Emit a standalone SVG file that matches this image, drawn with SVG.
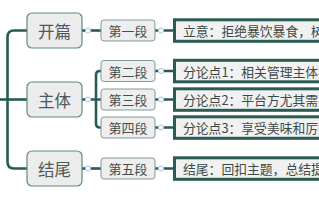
<svg xmlns="http://www.w3.org/2000/svg" width="319" height="200" viewBox="0 0 319 200">
<style>
.l1{fill:#ececec;stroke:#5f8a83;stroke-width:1.2}
.l2{fill:#eeeeee;stroke:#7e9c97;stroke-width:1}
.l3{fill:#f1f1f1;stroke:#2b5b53;stroke-width:3}
.t1{font-family:"Noto Sans CJK SC",sans-serif;font-size:16.5px;fill:#4f5958;text-anchor:middle;dominant-baseline:central}
.t2{font-family:"Noto Sans CJK SC",sans-serif;font-size:13px;fill:#434f4d;text-anchor:middle;dominant-baseline:central}
.t3{font-family:"Noto Sans CJK SC",sans-serif;font-size:12.8px;fill:#3b4a48;dominant-baseline:central}
.c{fill:none;stroke:#2a5a52;stroke-width:2.6}
.k{fill:#f4f7fd;stroke:#b4c4e6;stroke-width:1}
</style>
<defs><clipPath id="vp"><rect x="0" y="0" width="319" height="200"/></clipPath></defs>
<g id="connectors">
<path class="c" d="M0 99.5H27"/>
<path class="c" d="M27 30.5H14Q7.5 30.5 7.5 37V162Q7.5 168.5 14 168.5H27"/>
<path class="c" d="M82 30.5H101"/>
<path class="c" d="M82 99.5H96M101 71H100Q96 71 96 75V123.5Q96 127.5 100 127.5H101M96 99.5H101"/>
<path class="c" d="M82 168.5H101"/>
<path class="c" d="M155 30.5H173M155 71H173M155 99.5H173M155 127.5H173M155 168.5H173"/>
<circle class="k" cx="88" cy="30.5" r="2.6"/>
<circle class="k" cx="88" cy="99.5" r="2.6"/>
<circle class="k" cx="88" cy="168.5" r="2.6"/>
<circle class="k" cx="161" cy="30.5" r="2.6"/>
<circle class="k" cx="161" cy="71" r="2.6"/>
<circle class="k" cx="161" cy="99.5" r="2.6"/>
<circle class="k" cx="161" cy="127.5" r="2.6"/>
<circle class="k" cx="161" cy="168.5" r="2.6"/>
</g>
<g id="n-kaipian"><rect class="l1" x="27" y="13" width="55" height="35" rx="5"/><text class="t1" x="54.5" y="30.5">开篇</text></g>
<g id="n-zhuti"><rect class="l1" x="27" y="82" width="55" height="35" rx="5"/><text class="t1" x="54.5" y="99.5">主体</text></g>
<g id="n-jiewei"><rect class="l1" x="27" y="151" width="55" height="35" rx="5"/><text class="t1" x="54.5" y="168.5">结尾</text></g>
<g id="n-d1"><rect class="l2" x="101" y="20" width="54" height="21" rx="3"/><text class="t2" x="128" y="30.5">第一段</text></g>
<g id="n-d2"><rect class="l2" x="101" y="60.5" width="54" height="21" rx="3"/><text class="t2" x="128" y="71">第二段</text></g>
<g id="n-d3"><rect class="l2" x="101" y="89" width="54" height="21" rx="3"/><text class="t2" x="128" y="99.5">第三段</text></g>
<g id="n-d4"><rect class="l2" x="101" y="117" width="54" height="21" rx="3"/><text class="t2" x="128" y="127.5">第四段</text></g>
<g id="n-d5"><rect class="l2" x="101" y="158" width="54" height="21" rx="3"/><text class="t2" x="128" y="168.5">第五段</text></g>
<g clip-path="url(#vp)">
<g id="n-p1"><rect class="l3" x="174.5" y="19.8" width="200" height="21.5"/><text class="t3" x="183" y="30.5">立意：拒绝暴饮暴食，树</text></g>
<g id="n-p2"><rect class="l3" x="174.5" y="60.3" width="200" height="21.5"/><text class="t3" x="183" y="71">分论点1：相关管理主体在</text></g>
<g id="n-p3"><rect class="l3" x="174.5" y="88.8" width="200" height="21.5"/><text class="t3" x="183" y="99.5">分论点2：平台方尤其需要</text></g>
<g id="n-p4"><rect class="l3" x="174.5" y="116.8" width="200" height="21.5"/><text class="t3" x="183" y="127.5">分论点3：享受美味和厉行</text></g>
<g id="n-p5"><rect class="l3" x="174.5" y="157.8" width="200" height="21.5"/><text class="t3" x="183" y="168.5">结尾：回扣主题，总结提</text></g>
</g>
</svg>
